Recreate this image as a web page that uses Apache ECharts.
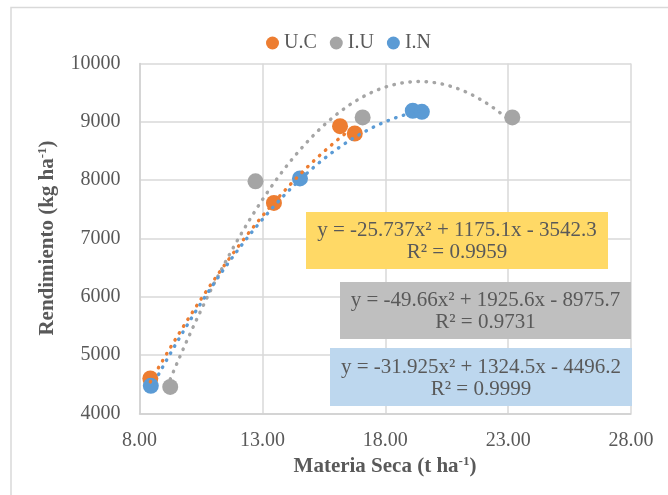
<!DOCTYPE html>
<html>
<head>
<meta charset="utf-8">
<script src="https://cdn.jsdelivr.net/npm/echarts@6/dist/echarts.min.js"></script>
<style>html,body{margin:0;padding:0;background:#fff}#c{width:668px;height:495px}</style>
</head>
<body>
<div id="c"></div>
<script>
// ---- data ----
const seriesNames = ['U.C', 'I.U', 'I.N'];
const ucData = [[8.44, 4600], [13.47, 7610], [16.16, 8925], [16.76, 8800]];
const iuData = [[9.25, 4455], [12.72, 7980], [17.08, 9075], [23.17, 9075]];
const inData = [[8.46, 4475], [14.53, 8030], [19.12, 9190], [19.49, 9172]];
// quadratic trendline coefficients shown in the chart [a, b, c] for y = a x^2 + b x + c
const ucCoef = [-25.737, 1175.1, -3542.3];
const iuCoef = [-49.66, 1925.6, -8975.7];
const inCoef = [-31.925, 1324.5, -4496.2];
const ucR2 = '0.9959';
const iuR2 = '0.9731';
const inR2 = '0.9999';
const xTicks = { min: 8, max: 28, interval: 5 };
const yTicks = { min: 4000, max: 10000, interval: 1000 };

const colors = ['#ED7D31', '#A5A5A5', '#5B9BD5'];
const FONT = "'Liberation Serif', 'Times New Roman', serif";
const TXT = '#595959';

function trend(coef, pts) {
  const xs = pts.map(p => p[0]);
  const x0 = Math.min(...xs), x1 = Math.max(...xs);
  const out = [];
  const n = 80;
  for (let i = 0; i <= n; i++) {
    const x = x0 + (x1 - x0) * i / n;
    out.push([x, coef[0] * x * x + coef[1] * x + coef[2]]);
  }
  return out;
}
function eqText(coef, r2) {
  const s = v => (v < 0 ? '- ' + Math.abs(v) : '+ ' + v);
  return 'y = ' + coef[0] + 'x² ' + s(coef[1]) + 'x ' + s(coef[2]) + '\nR² = ' + r2;
}

const allData = [ucData, iuData, inData];
const allCoef = [ucCoef, iuCoef, inCoef];

const series = [];
allData.forEach((d, i) => {
  series.push({
    name: seriesNames[i], type: 'scatter', data: d, symbolSize: 16,
    itemStyle: { color: colors[i], opacity: 1 }, z: 2 + i
  });
});
allData.forEach((d, i) => {
  series.push({
    name: seriesNames[i] + ' trend', type: 'line', data: trend(allCoef[i], d),
    showSymbol: false, symbol: 'none', smooth: false, silent: true,
    lineStyle: { color: colors[i], width: 3.4, type: [0.5, 7.6], cap: 'round' }, z: 6
  });
});

const boxes = [
  { x: 306, y: 212, w: 302, h: 57, fill: '#FFD966', coef: ucCoef, r2: ucR2 },
  { x: 340, y: 282, w: 291, h: 57, fill: '#BFBFBF', coef: iuCoef, r2: iuR2 },
  { x: 330, y: 348, w: 302, h: 58, fill: '#BDD7EE', coef: inCoef, r2: inR2 }
];
const graphics = [
  { type: 'rect', shape: { x: 11, y: 7.5, width: 800, height: 700 }, style: { fill: 'none', stroke: '#d9d9d9', lineWidth: 1.5 }, z: 0, silent: true }
];
boxes.forEach(b => {
  graphics.push({ type: 'rect', shape: { x: b.x, y: b.y, width: b.w, height: b.h }, style: { fill: b.fill }, z: 100 });
  graphics.push({ type: 'text', x: b.x + b.w / 2, y: b.y + b.h / 2 + 1, z: 101,
    style: { text: eqText(b.coef, b.r2), font: '21px ' + FONT, fill: TXT, align: 'center', verticalAlign: 'middle', lineHeight: 22 } });
});
graphics.push({ type: 'text', x: 385, y: 467, z: 101,
  style: { text: '{m|Materia Seca (t ha}{s|-1}{m|)}', align: 'center', verticalAlign: 'middle',
    rich: { m: { font: 'bold 21px ' + FONT, fill: TXT, lineHeight: 24 }, s: { font: 'bold 13px ' + FONT, fill: TXT, verticalAlign: 'top', lineHeight: 24, padding: [0, 0, 10, 0] } } } });
graphics.push({ type: 'text', x: 48, y: 238, rotation: Math.PI / 2, z: 101,
  style: { text: '{m|Rendimiento (kg ha}{s|-1}{m|)}', align: 'center', verticalAlign: 'middle',
    rich: { m: { font: 'bold 21px ' + FONT, fill: TXT, lineHeight: 24 }, s: { font: 'bold 13px ' + FONT, fill: TXT, verticalAlign: 'top', lineHeight: 24, padding: [0, 0, 10, 0] } } } });

const chart = echarts.init(document.getElementById('c'), null, { renderer: 'canvas' });
chart.setOption({
  animation: false,
  backgroundColor: '#fff',
  textStyle: { fontFamily: FONT },
  legend: {
    data: seriesNames, top: 33, left: 266, itemWidth: 13, itemHeight: 13, itemGap: 13,
    icon: 'circle', textStyle: { fontSize: 20, fontFamily: FONT, color: TXT }, padding: 0
  },
  grid: { left: 139.5, right: 37, top: 63.5, bottom: 81.5, containLabel: false },
  xAxis: {
    type: 'value', min: xTicks.min, max: xTicks.max, interval: xTicks.interval,
    axisLine: { show: true, lineStyle: { color: '#d0d0d0', width: 1.5 } },
    axisTick: { show: false },
    splitLine: { show: true, lineStyle: { color: '#d9d9d9', width: 1.5 } },
    axisLabel: { formatter: v => v.toFixed(2), fontSize: 20, fontFamily: FONT, color: TXT, margin: 17 }
  },
  yAxis: {
    type: 'value', min: yTicks.min, max: yTicks.max, interval: yTicks.interval,
    axisLine: { show: true, lineStyle: { color: '#d0d0d0', width: 1.5 } },
    axisTick: { show: false },
    splitLine: { show: true, lineStyle: { color: '#d9d9d9', width: 1.5 } },
    axisLabel: { formatter: v => String(v), fontSize: 20, fontFamily: FONT, color: TXT, margin: 19 }
  },
  series: series,
  graphic: graphics
});
</script>
</body>
</html>
